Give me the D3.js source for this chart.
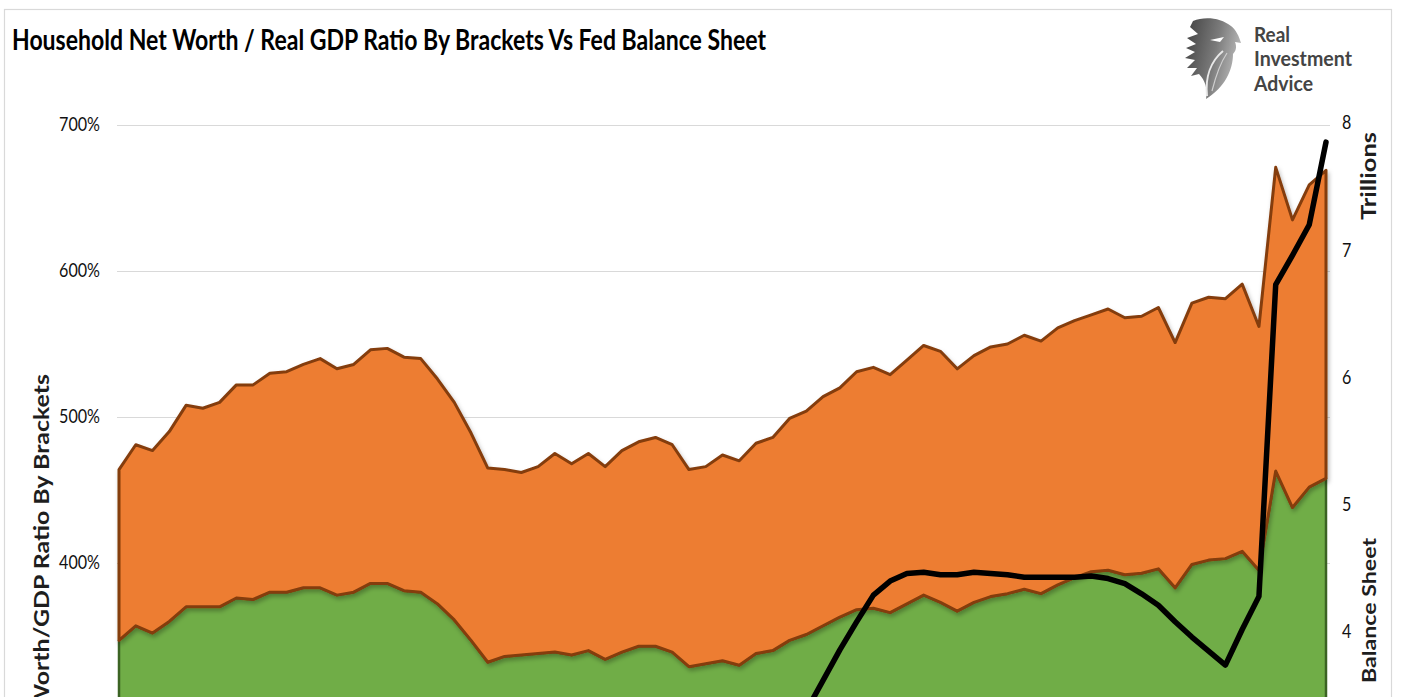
<!DOCTYPE html>
<html><head><meta charset="utf-8">
<script src="https://cdn.jsdelivr.net/npm/d3@7/dist/d3.min.js"></script>
<style>
html,body{margin:0;padding:0;overflow:hidden;background:#fff;}
svg{display:block;}
text{font-family:Lato,"Open Sans",sans-serif;}
</style>
</head><body>
<svg id="chart" width="1403" height="697"></svg>
<script>
// ---------------- DATA ----------------
const quarters = ["2003Q1","2003Q2","2003Q3","2003Q4","2004Q1","2004Q2","2004Q3","2004Q4",
"2005Q1","2005Q2","2005Q3","2005Q4","2006Q1","2006Q2","2006Q3","2006Q4",
"2007Q1","2007Q2","2007Q3","2007Q4","2008Q1","2008Q2","2008Q3","2008Q4",
"2009Q1","2009Q2","2009Q3","2009Q4","2010Q1","2010Q2","2010Q3","2010Q4",
"2011Q1","2011Q2","2011Q3","2011Q4","2012Q1","2012Q2","2012Q3","2012Q4",
"2013Q1","2013Q2","2013Q3","2013Q4","2014Q1","2014Q2","2014Q3","2014Q4",
"2015Q1","2015Q2","2015Q3","2015Q4","2016Q1","2016Q2","2016Q3","2016Q4",
"2017Q1","2017Q2","2017Q3","2017Q4","2018Q1","2018Q2","2018Q3","2018Q4",
"2019Q1","2019Q2","2019Q3","2019Q4","2020Q1","2020Q2","2020Q3","2020Q4","2021Q1"];

// lower brackets (green layer), % of real GDP
const lowerBracket = [347,357,352,360,370,370,370,376,375,380,
380,383,383,378,380,386,386,381,380,372,
361,347,332,336,337,338,339,337,340,334,
339,343,343,339,329,331,333,330,338,340,
347,351,357,363,368,369,366,372,378,373,
367,373,377,379,382,379,385,390,394,395,
392,393,396,383,399,402,403,408,395,463,
438,452,458];

// upper brackets (orange layer, stacked on green), % of real GDP
const upperBracket = [117,124,125,130,138,136,140,146,147,150,
151,153,157,155,156,160,161,160,160,154,
149,142,133,128,125,128,136,131,135,132,
138,140,143,142,135,135,141,140,144,146,
152,153,157,157,163,165,163,167,171,172,
166,169,171,171,174,173,176,176,176,179,
176,176,179,168,179,180,178,183,167,208,
197,207,211];

// Fed balance sheet, trillions
const fedBalanceSheet = [0.72,0.73,0.74,0.75,0.76,0.77,0.78,0.80,0.81,0.82,
0.83,0.84,0.85,0.86,0.87,0.87,0.88,0.88,0.88,0.89,
0.90,0.89,1.30,2.24,2.09,2.05,2.13,2.24,2.32,2.33,
2.30,2.42,2.65,2.87,2.86,2.93,2.87,2.86,2.82,2.91,
3.20,3.38,3.62,3.86,4.08,4.29,4.40,4.46,4.47,4.45,
4.45,4.47,4.46,4.45,4.43,4.43,4.43,4.43,4.44,4.42,
4.38,4.30,4.21,4.08,3.96,3.85,3.74,4.02,4.28,6.73,
6.96,7.20,7.85];

const leftTicks = [0,100,200,300,400,500,600,700];
const rightTicks = [0,1,2,3,4,5,6,7,8];

const chartTitle = "Household Net Worth / Real GDP Ratio By Brackets Vs Fed Balance Sheet";
const leftTitle = "Household Net Worth/GDP Ratio By Brackets";
const rightTitle = "Balance Sheet";
const unitsLabel = "Trillions";
const logoLines = ["Real","Investment","Advice"];

// ---------------- CHART ----------------
const svg = d3.select("#chart");
const SQ = 0.87; // horizontal condensation of the reference rendering
const VIEW_H = 697;

const defs = svg.append("defs");
const f = defs.append("filter").attr("id","shadow").attr("x","-5%").attr("y","-5%").attr("width","110%").attr("height","120%");
f.append("feDropShadow").attr("dx",1.5).attr("dy",3).attr("stdDeviation",2.2).attr("flood-color","#000").attr("flood-opacity",0.28);
const lg = defs.append("linearGradient").attr("id","logoGrad").attr("x1","0").attr("y1","0").attr("x2","1").attr("y2","0.3");
lg.append("stop").attr("offset","0").attr("stop-color","#3f3f3f");
lg.append("stop").attr("offset","0.6").attr("stop-color","#7a7a7a");
lg.append("stop").attr("offset","1").attr("stop-color","#b5b5b5");

// frame (continues below the visible crop)
svg.append("rect").attr("x",4.5).attr("y",9.5).attr("width",1387).attr("height",1225)
  .attr("fill","#fff").attr("stroke","#d9d9d9").attr("stroke-width",1.2);

const x = d3.scaleLinear().domain([0, quarters.length-1]).range([119, 1326]);
const yL = d3.scaleLinear().domain([0,700]).range([1147,125]);
const yR = d3.scaleLinear().domain([0,8]).range([1141,123]);

const visLeft = leftTicks.filter(t=>yL(t) < VIEW_H-10);
const visRight = rightTicks.filter(t=>yR(t) < VIEW_H-10);

// gridlines
svg.append("g").attr("transform","translate(117,0)")
  .call(d3.axisLeft(yL).tickValues(leftTicks).tickSize(-(1330-117)).tickFormat(""))
  .call(g=>g.select(".domain").remove())
  .call(g=>g.selectAll("line").attr("stroke","#d9d9d9").attr("stroke-width",1.2));

// stacked areas
const rows = quarters.map((q,i)=>({q, lower: lowerBracket[i], upper: upperBracket[i]}));
const stacked = d3.stack().keys(["lower","upper"])(rows);
const area = d3.area().x((d,i)=>x(i)).y0(d=>yL(d[0])).y1(d=>yL(d[1])).curve(d3.curveLinear);

svg.append("path").datum(stacked[0]).attr("d",area)
  .attr("fill","#70AD47").attr("stroke","#3B6323").attr("stroke-width",2.5).attr("stroke-linejoin","round");
svg.append("path").datum(stacked[1]).attr("d",area)
  .attr("fill","#ED7D31").attr("stroke","#843C0C").attr("stroke-width",3).attr("stroke-linejoin","round")
  .attr("filter","url(#shadow)");

// Fed balance sheet line
const line = d3.line().x((d,i)=>x(i)).y(d=>yR(d)).curve(d3.curveLinear);
svg.append("path").datum(fedBalanceSheet).attr("d",line)
  .attr("fill","none").attr("stroke","#000").attr("stroke-width",5.5)
  .attr("stroke-linejoin","round").attr("stroke-linecap","round");

// axes (only the labels inside the visible crop)
const gl = svg.append("g").attr("class","sq").attr("transform","translate(117,0)")
  .call(d3.axisLeft(yL).tickValues(visLeft).tickSize(0).tickPadding(17).tickFormat(d=>d+"%"));
gl.select(".domain").remove();
gl.selectAll("text").attr("font-size",18.5).attr("fill","#111").attr("font-family","Lato,sans-serif");

const gr = svg.append("g").attr("class","sq").attr("transform","translate(1330,0)")
  .call(d3.axisRight(yR).tickValues(visRight).tickSize(0).tickPadding(12).tickFormat(d3.format("d")));
gr.select(".domain").remove();
gr.selectAll("text").attr("font-size",18.5).attr("fill","#111").attr("font-family","Lato,sans-serif");

// condense all plain texts
svg.selectAll(".sq text").each(function(){
  const w = this.getComputedTextLength();
  this.setAttribute("textLength", w*SQ);
  this.setAttribute("lengthAdjust","spacingAndGlyphs");
});

// title
svg.append("text").attr("x",12).attr("y",50).attr("font-size",29).attr("font-weight",700)
  .attr("fill","#000").attr("textLength",754).attr("lengthAdjust","spacingAndGlyphs")
  .text(chartTitle);

// rotated titles: size along reading direction fitted to the reference
function fitSize(str, target, weight){
  const t = svg.append("text").attr("font-size",20).attr("font-weight",weight).text(str);
  const w = t.node().getComputedTextLength(); t.remove();
  return 20*target/w;
}
const fsL = fitSize("Worth/GDP Ratio By Brackets", 336, 700);
svg.append("text").attr("transform","translate(48.5,374) scale(0.8,1) rotate(-90)")
  .attr("text-anchor","end").attr("font-size",fsL).attr("font-weight",700).attr("fill","#1e1e1e")
  .text(leftTitle);

const fsR = fitSize(rightTitle, 145, 700);
svg.append("text").attr("transform","translate(1376,538) scale(0.8,1) rotate(-90)")
  .attr("text-anchor","end").attr("font-size",fsR).attr("font-weight",700).attr("fill","#1e1e1e")
  .text(rightTitle);
const fsU = fitSize(unitsLabel, 88, 700);
svg.append("text").attr("transform","translate(1376,132) scale(0.8,1) rotate(-90)")
  .attr("text-anchor","end").attr("font-size",fsU).attr("font-weight",700).attr("fill","#1e1e1e")
  .text(unitsLabel);

// logo
const logo = svg.append("g").attr("transform","translate(1183,17)");
logo.append("path")
  .attr("d","M10,4 C22,-1 38,1 48,9 C53,13 56,19 58,26 L52,25 C54,30 53,34 50,37 C50,53 42,70 23,82 C25,72 22,63 16,57 L8,59 L14,51 L4,51 L12,43 L2,41 L12,35 L3,31 L13,27 L4,21 L15,17 L7,10 Z")
  .attr("fill","url(#logoGrad)");
logo.append("path").attr("d","M27,23 L41,20 L37,25 Z").attr("fill","#fff");
logo.append("path").attr("d","M40,34 C28,44 22,60 24,79").attr("fill","none").attr("stroke","#e8e8e8").attr("stroke-width",2);
logo.append("path").attr("d","M44,36 C36,48 32,62 29,74").attr("fill","none").attr("stroke","#cfcfcf").attr("stroke-width",1.2);
const logoW = [36,98,59];
const logoY = [42,66,91];
logoLines.forEach((s,i)=>{
  svg.append("text").attr("x",1254).attr("y",logoY[i]).attr("font-size",20.5).attr("font-weight",700)
    .attr("fill","#444").attr("textLength",logoW[i]).attr("lengthAdjust","spacingAndGlyphs").text(s);
});
</script>
</body></html>
